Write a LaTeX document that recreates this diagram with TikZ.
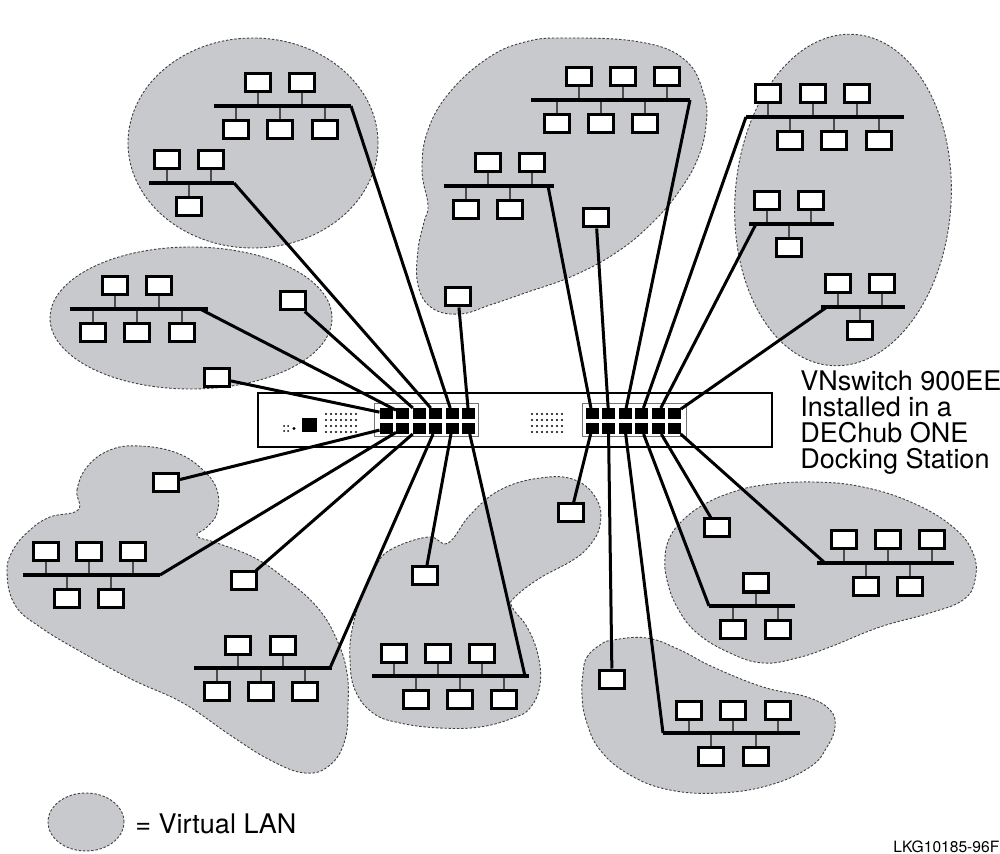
\documentclass[tikz,border=0pt]{standalone}
\usepackage{fontspec}
\setmainfont{TeX Gyre Heros}
\definecolor{langray}{RGB}{200,201,204}
\tikzset{
  pc/.style={draw, fill=white, line width=1.5pt, minimum width=12.5pt, minimum height=9pt, inner sep=0pt},
  port/.style={fill=black, minimum width=6.5pt, minimum height=5.5pt, inner sep=0pt, outer sep=0pt},
  portblock/.style={draw=black!55, fill=white, line width=0.5pt, minimum width=52pt, minimum height=16.5pt, inner sep=0pt},
  link/.style={line width=1.5pt},
  bus/.style={line width=2.2pt},
  stub/.style={line width=0.7pt, black!70},
  blob/.style={fill=langray, draw=black!75, line width=0.45pt, dash pattern=on 1.2pt off 0.9pt},
  lbl/.style={font=\fontsize{13.5}{13}\selectfont, inner sep=0pt},
}
% #1 name, #2 bus y, #3 left x, #4 right x, #5 upper box xs, #6 lower box xs, #7 connection x
\newcommand{\lanseg}[7]{%
  \coordinate (#1-L) at (#3,#2);
  \coordinate (#1-R) at (#4,#2);
  \coordinate (#1-c) at (#7,#2);
  \foreach \u [count=\k] in {#5} {
    \node[pc] (#1-u\k) at (\u,#2-23) {};
    \draw[stub] (#1-u\k.south) -- (#1-u\k.south |- #1-L);
  }
  \foreach \u [count=\k] in {#6} {
    \node[pc] (#1-d\k) at (\u,#2+23.5) {};
    \draw[stub] (#1-d\k.north) -- (#1-d\k.north |- #1-L);
  }
  \draw[bus] (#1-L) -- (#1-R);
}
\begin{document}
\begin{tikzpicture}[x=0.5pt,y=-0.5pt]
\useasboundingbox (0,0) rectangle (1000,854);

% ---- virtual LAN blobs ----
\draw[blob] (253,143) ellipse [x radius=62.5pt, y radius=52.5pt];
\draw[blob] (191,318) ellipse [x radius=70.5pt, y radius=35.5pt];
\draw[blob] plot[smooth cycle, tension=0.7] coordinates {
  (565,38) (640,42) (685,60) (704,95) (706,125) (698,158) (680,190) (655,220)
  (620,250) (575,275) (525,293) (490,305) (460,314) (432,308) (418,285) (418,250)
  (424,222) (428,205) (422,170) (428,130) (450,92) (488,58) (525,42)};
\draw[blob, rotate around={-4:(843,200)}] (843,200) ellipse [x radius=54pt, y radius=83pt];
\draw[blob] plot[smooth cycle, tension=0.7] coordinates {
  (78,510) (77,490) (87,467) (110,450) (140,446) (177,453) (203,470) (217,490)
  (217,513) (207,527) (197,536) (217,543) (253,557) (283,577) (317,607) (337,640)
  (347,673) (348,705) (345,740) (330,765) (305,773) (270,760) (230,735) (183,703)
  (133,680) (83,653) (40,627) (15,605) (7,573) (13,550) (30,530) (50,517)};
\draw[blob] plot[smooth cycle, tension=0.7] coordinates {
  (375,568) (390,550) (428,537) (448,543) (470,515) (500,490) (540,478) (575,480)
  (597,500) (600,525) (590,545) (573,560) (540,578) (515,597) (512,607) (527,627)
  (538,655) (540,685) (530,708) (513,718) (480,727) (440,728) (400,723) (373,713)
  (355,690) (350,660) (352,630) (362,595)};
\draw[blob] plot[smooth cycle, tension=0.7] coordinates {
  (583,673) (587,657) (600,645) (613,640) (647,638) (680,650) (713,667) (763,687)
  (807,697) (830,710) (835,727) (827,747) (810,767) (770,785) (720,793) (670,790)
  (630,775) (600,750) (586,720) (582,695)};
\draw[blob] plot[smooth cycle, tension=0.7] coordinates {
  (665,557) (670,537) (683,520) (703,505) (730,493) (763,485) (813,482) (863,487)
  (913,503) (953,527) (973,553) (975,580) (963,600) (930,613) (880,627) (830,647)
  (797,658) (763,663) (730,653) (697,633) (677,607) (667,580)};

% ---- switch ----
\node[draw, fill=white, line width=1.2pt, minimum width=257pt, minimum height=27pt, inner sep=0pt] (sw) at (515,420) {};
\node[portblock] (LB) at (426,420.5) {};
\node[portblock] (RB) at (634,420.5) {};
\foreach \i in {0,...,6} \foreach \j in {0,...,3} {
  \fill (326+5*\i,414+6*\j) circle[radius=0.6pt];
  \fill (532+5*\i,414+6*\j) circle[radius=0.6pt];
}
\foreach \p in {(284,426),(288,426),(284,431),(288,431)} \fill \p circle[radius=0.5pt];
\fill (294,428.5) circle[radius=0.8pt];
\fill (302,418) rectangle (317,432);
\foreach \i in {1,...,6} {
  \node[port] (Lt\i) at (369.5+16.5*\i,413.5) {};
  \node[port] (Lb\i) at (369.5+16.5*\i,428.5) {};
  \node[port] (Rt\i) at (575.5+16.5*\i,413.5) {};
  \node[port] (Rb\i) at (575.5+16.5*\i,428.5) {};
}

% ---- LAN segments ----
\lanseg{A}{106}{214}{351}{258,302}{236,280,325}{351}
\lanseg{B}{183}{149}{234}{167,211}{189}{234}
\lanseg{N}{309}{70}{208}{115,159}{93,137,182}{200}
\lanseg{C}{100}{531}{690}{579,623,667}{557,601,645}{690}
\lanseg{D}{186}{444}{554}{488,532}{466,510}{548}
\lanseg{E}{117}{746}{904}{768,813,857}{790,834,879}{746}
\lanseg{F}{224}{749}{834}{767,811}{789}{756}
\lanseg{G}{307}{821}{905}{838,882}{860}{827}
\lanseg{H}{575}{23}{160}{46,89,133}{67,111}{160}
\lanseg{I}{668}{194}{332}{238,283}{217,261,305}{330}
\lanseg{J}{676}{372}{529}{394,438,482}{416,460,504}{525}
\lanseg{K}{733}{663}{800}{689,733,778}{711,756}{663}
\lanseg{M}{606}{709}{795}{756}{733,778}{709}
\lanseg{Lq}{563}{817}{954}{844,888,932}{866,910}{825}

% ---- single stations ----
\node[pc] (s1) at (217,378) {};
\node[pc] (s2) at (293,301) {};
\node[pc] (s3) at (458,297) {};
\node[pc] (s4) at (596,218) {};
\node[pc] (s5) at (166,483) {};
\node[pc] (s6) at (244,581) {};
\node[pc] (s7) at (425,576) {};
\node[pc] (s8) at (571,513) {};
\node[pc] (s9) at (612,679) {};
\node[pc] (s10) at (717,528) {};

% ---- connectors ----
\draw[link] (s1) -- (Lt1);
\draw[link] (N-c) -- (Lt2);
\draw[link] (s2) -- (Lt3);
\draw[link] (B-c) -- (Lt4);
\draw[link] (A-c) -- (Lt5);
\draw[link] (s3) -- (Lt6);
\draw[link] (D-c) -- (Rt1);
\draw[link] (s4) -- (Rt2);
\draw[link] (C-c) -- (Rt3);
\draw[link] (E-c) -- (Rt4);
\draw[link] (F-c) -- (Rt5);
\draw[link] (G-c) -- (Rt6);
\draw[link] (s5) -- (Lb1);
\draw[link] (H-c) -- (Lb2);
\draw[link] (s6) -- (Lb3);
\draw[link] (I-c) -- (Lb4);
\draw[link] (s7) -- (Lb5);
\draw[link] (J-c) -- (Lb6);
\draw[link] (s8) -- (Rb1);
\draw[link] (s9) -- (Rb2);
\draw[link] (K-c) -- (Rb3);
\draw[link] (M-c) -- (Rb4);
\draw[link] (s10) -- (Rb5);
\draw[link] (Lq-c) -- (Rb6);

% ---- labels ----
\node[lbl, anchor=north west, align=left] (title) at (800,370)
  {VNswitch 900EE\\Installed in a\\DEChub ONE\\Docking Station};
\draw[blob] (86,822) ellipse [x radius=19pt, y radius=14.5pt];
\node[lbl, anchor=base west] (legend) at (135,833) {= Virtual LAN};
\node[inner sep=0pt, anchor=base west, font=\fontsize{7.8}{9}\selectfont] (code) at (893,852.5) {LKG10185-96F};
\end{tikzpicture}
\end{document}
